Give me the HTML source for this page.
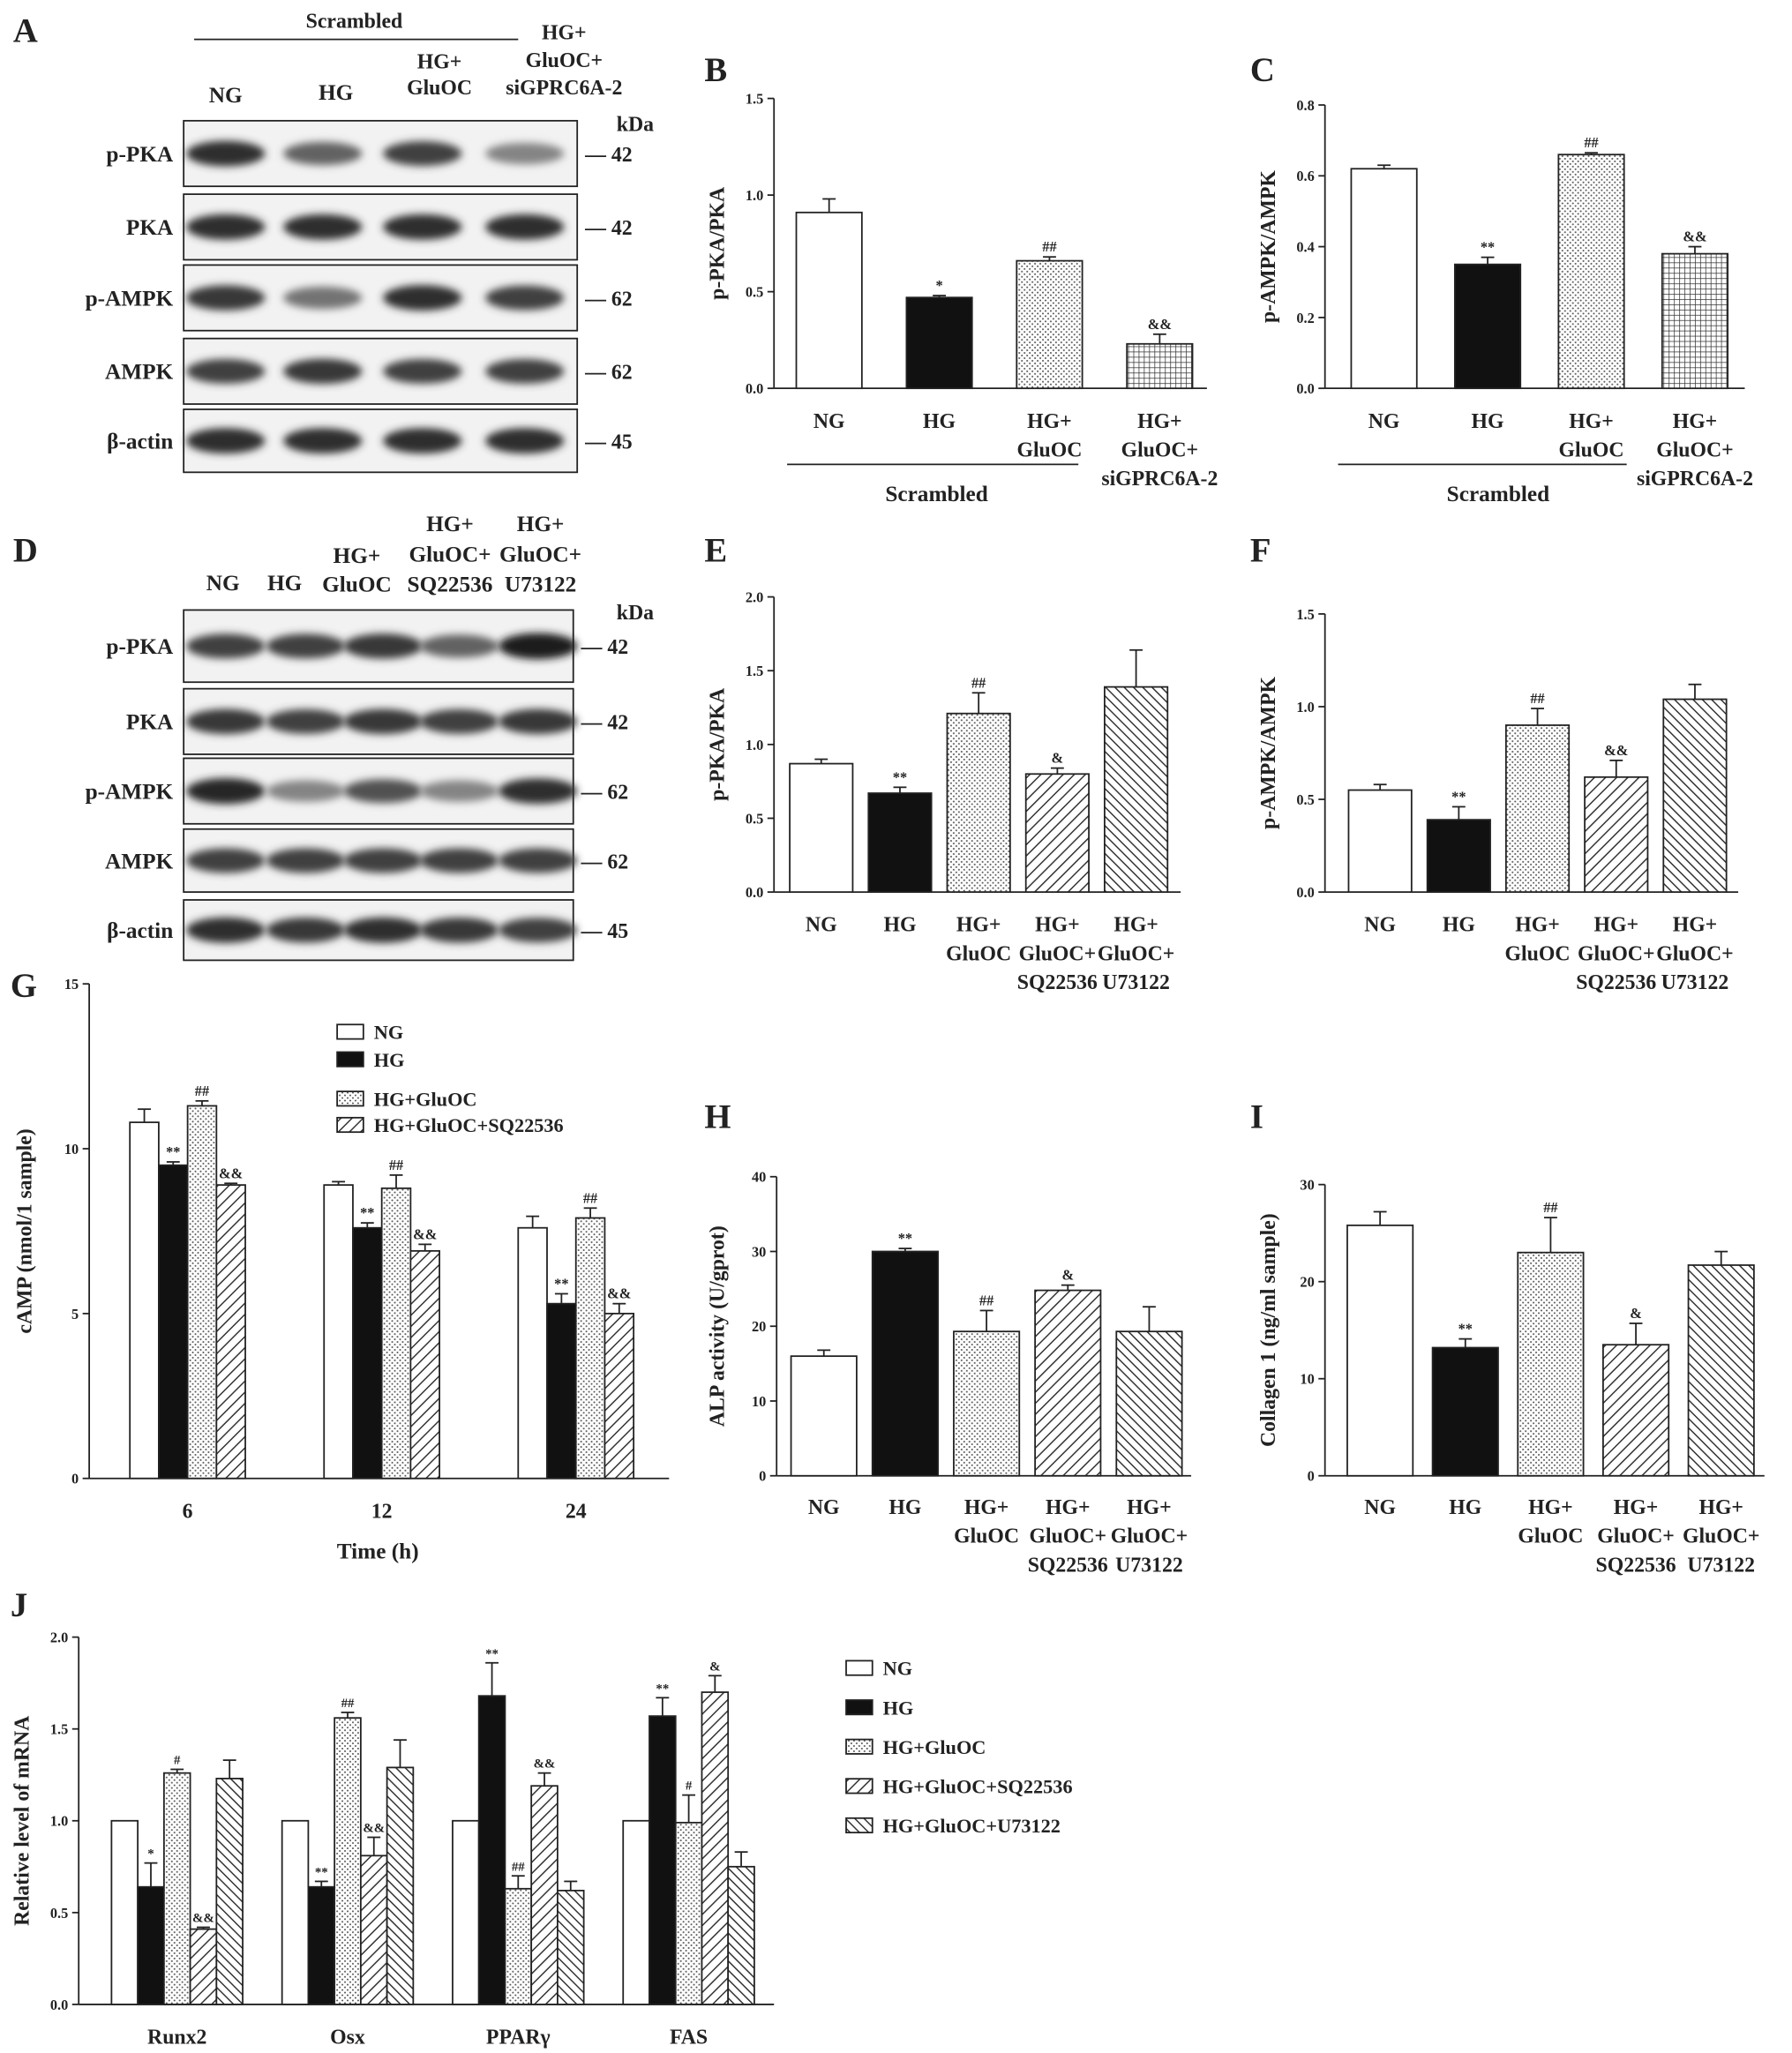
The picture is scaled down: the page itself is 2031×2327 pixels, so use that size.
<!DOCTYPE html>
<html><head><meta charset="utf-8"><style>
html,body{margin:0;padding:0;background:#fff}
svg{display:block}
text{font-family:"Liberation Serif",serif;font-weight:bold;fill:#222}
</style></head><body>
<svg id="fig" width="2031" height="2327" viewBox="0 0 1366 1565" xmlns="http://www.w3.org/2000/svg">
<defs>
<pattern id="pDots" width="4" height="4" patternUnits="userSpaceOnUse"><rect width="4" height="4" fill="#fff"/><circle cx="1" cy="1" r="0.7" fill="#555"/><circle cx="3" cy="3" r="0.7" fill="#555"/></pattern>
<pattern id="pHatch" width="6" height="6" patternUnits="userSpaceOnUse" patternTransform="rotate(45)"><rect width="6" height="6" fill="#fff"/><line x1="0" y1="0" x2="0" y2="6" stroke="#333" stroke-width="2"/></pattern>
<pattern id="pBack" width="5" height="5" patternUnits="userSpaceOnUse" patternTransform="rotate(-45)"><rect width="5" height="5" fill="#fff"/><line x1="0" y1="0" x2="0" y2="5" stroke="#333" stroke-width="2"/></pattern>
<pattern id="pGrid" width="4" height="4" patternUnits="userSpaceOnUse"><rect width="4" height="4" fill="#fff"/><path d="M0 0H4M0 0V4" stroke="#333" stroke-width="1"/></pattern>
<filter id="blur" x="-20%" y="-50%" width="140%" height="200%"><feGaussianBlur stdDeviation="3"/></filter>
</defs>
<g id="root"></g>
</svg>
<script>
// ---- data ----
const bCats=["NG","HG","HG+|GluOC","HG+|GluOC+|siGPRC6A-2"];
const bVals=[0.91,0.47,0.66,0.23];
const bErr=[0.07,0.01,0.02,0.05];
const bSig=["","*","##","&&"];
const bTicks=["0.0","0.5","1.0","1.5"];
const cVals=[0.62,0.35,0.66,0.38];
const cErr=[0.01,0.02,0.005,0.02];
const cSig=["","**","##","&&"];
const cTicks=["0.0","0.2","0.4","0.6","0.8"];
const eCats=["NG","HG","HG+|GluOC","HG+|GluOC+|SQ22536","HG+|GluOC+|U73122"];
const eVals=[0.87,0.67,1.21,0.80,1.39];
const eErr=[0.03,0.04,0.14,0.04,0.25];
const eSig=["","**","##","&",""];
const eTicks=["0.0","0.5","1.0","1.5","2.0"];
const fVals=[0.55,0.39,0.90,0.62,1.04];
const fErr=[0.03,0.07,0.09,0.09,0.08];
const fSig=["","**","##","&&",""];
const fTicks=["0.0","0.5","1.0","1.5"];
const hVals=[16,30,19.3,24.8,19.3];
const hErr=[0.8,0.4,2.8,0.7,3.3];
const hSig=["","**","##","&",""];
const hTicks=["0","10","20","30","40"];
const iVals=[25.8,13.2,23,13.5,21.7];
const iErr=[1.4,0.9,3.6,2.2,1.4];
const iSig=["","**","##","&",""];
const iTicks=["0","10","20","30"];
const gCats=["6","12","24"];
const gVals=[[10.8,9.5,11.3,8.9],[8.9,7.6,8.8,6.9],[7.6,5.3,7.9,5.0]];
const gErr=[[0.4,0.1,0.15,0.05],[0.1,0.15,0.4,0.2],[0.35,0.3,0.3,0.3]];
const gSig=[["","**","##","&&"],["","**","##","&&"],["","**","##","&&"]];
const gTicks=["0","5","10","15"];
const gLegend=["NG","HG","HG+GluOC","HG+GluOC+SQ22536"];
const jCats=["Runx2","Osx","PPARγ","FAS"];
const jVals=[[1.0,0.64,1.26,0.41,1.23],[1.0,0.64,1.56,0.81,1.29],[1.0,1.68,0.63,1.19,0.62],[1.0,1.57,0.99,1.70,0.75]];
const jErr=[[0,0.13,0.02,0.01,0.1],[0,0.03,0.03,0.1,0.15],[0,0.18,0.07,0.07,0.05],[0,0.1,0.15,0.09,0.08]];
const jSig=[["","*","#","&&",""],["","**","##","&&",""],["","**","##","&&",""],["","**","#","&",""]];
const jTicks=["0.0","0.5","1.0","1.5","2.0"];
const jLegend=["NG","HG","HG+GluOC","HG+GluOC+SQ22536","HG+GluOC+U73122"];
const fills=["#fff","#111","url(#pDots)","url(#pHatch)","url(#pBack)"];
const fillsB=["#fff","#111","url(#pDots)","url(#pGrid)"];

const NS="http://www.w3.org/2000/svg";
const root=document.getElementById('root');
function mk(tag,a,parent){const e=document.createElementNS(NS,tag);for(const k in a)e.setAttribute(k,a[k]);(parent||root).appendChild(e);return e;}
function txt(x,y,s,size,anchor,parent){const t=mk('text',{x:x,y:y,'font-size':size,'text-anchor':anchor||'middle'},parent);t.textContent=s;return t;}
function multi(x,y,s,size,lh,parent){s.split('|').forEach((l,k)=>{const t=txt(x,y+k*lh,l,size,'middle',parent);

});}

function axes(g,ax,yT,yB,xEnd,ticks,ylabel,ylx,tsz){
  const yl=mk('line',{x1:ax,y1:yT,x2:ax,y2:yB,stroke:'#222','stroke-width':1.2},g);
  
  
  const xl=mk('line',{x1:ax,y1:yB,x2:xEnd,y2:yB,stroke:'#222','stroke-width':1.2},g);
  
  
  ticks.forEach((t,k)=>{const y=yB-(yB-yT)*k/(ticks.length-1);
    mk('line',{x1:ax-5,y1:y,x2:ax,y2:y,stroke:'#222','stroke-width':1.2},g);
    const tt=txt(ax-8,y+4,t,tsz||11,'end',g);
    
    });
  const yt=txt(0,0,ylabel,16,'middle',g);
  yt.setAttribute('transform','translate('+ylx+','+((yT+yB)/2)+') rotate(-90)');
  
  
}
function bar(g,cx,bw,v,e,sig,y,yB,fill,sigSize){
  const r=mk('rect',{x:cx-bw/2,y:y(v),width:bw,height:yB-y(v),fill:fill,stroke:'#222','stroke-width':1.2},g);
  
  
  if(e>0){mk('line',{x1:cx,y1:y(v),x2:cx,y2:y(v+e),stroke:'#222','stroke-width':1.2},g);
    mk('line',{x1:cx-5,y1:y(v+e),x2:cx+5,y2:y(v+e),stroke:'#222','stroke-width':1.2},g);}
  if(sig){const s=txt(cx,y(v+e)-4,sig,sigSize||11,'middle',g);s.setAttribute('font-weight','normal');s.setAttribute('fill','#444');
    
    }
}
function simple(name,ax,yT,yB,xEnd,vmax,ticks,vals,errs,sigs,cats,first,step,bw,ylabel,ylx,fl,catY){
  const g=mk('g',{});
  
  
  axes(g,ax,yT,yB,xEnd,ticks,ylabel,ylx);
  const y=v=>yB-v/vmax*(yB-yT);
  const xb=i=>ax+first+i*step;
  vals.forEach((v,i)=>{bar(g,xb(i),bw,v,errs[i],sigs[i],y,yB,fl[i]);multi(xb(i),catY,cats[i],16,22,g);});
}
function label(x,y,s){const t=txt(x,y,s,26,'start');}

// panel labels
[[10,32,"A"],[537,62,"B"],[953,62,"C"],[10,428,"D"],[537,428,"E"],[953,428,"F"],[8,760,"G"],[537,860,"H"],[953,860,"I"],[8,1232,"J"]].forEach(p=>label(p[1-1],p[1],p[2]));

// B
simple('chart-b',590,75,296,920,1.5,bTicks,bVals,bErr,bSig,bCats,42,84,50,'p-PKA/PKA',552,fillsB,326);
mk('line',{x1:600,y1:354,x2:822,y2:354,stroke:'#222','stroke-width':1.2});
txt(714,382,'Scrambled',17);
// C
simple('chart-c',1010,80,296,1330,0.8,cTicks,cVals,cErr,cSig,bCats,45,79,50,'p-AMPK/AMPK',972,fillsB,326);
mk('line',{x1:1020,y1:354,x2:1240,y2:354,stroke:'#222','stroke-width':1.2});
txt(1142,382,'Scrambled',17);
// E
simple('chart-e',590,455,680,900,2.0,eTicks,eVals,eErr,eSig,eCats,36,60,48,'p-PKA/PKA',552,fills,710);
// F
simple('chart-f',1010,468,680,1325,1.5,fTicks,fVals,fErr,fSig,eCats,42,60,48,'p-AMPK/AMPK',972,fills,710);
// H
simple('chart-h',592,897,1125,908,40,hTicks,hVals,hErr,hSig,eCats,36,62,50,'ALP activity (U/gprot)',552,fills,1154);
// I
simple('chart-i',1010,903,1125,1345,30,iTicks,iVals,iErr,iSig,eCats,42,65,50,'Collagen 1 (ng/ml sample)',972,fills,1154);

// grouped
function grouped(name,ax,yT,yB,xEnd,vmax,ticks,vals,errs,sigs,cats,first,gstep,bw,ylabel,ylx,fl,catY,sigSize){
  const g=mk('g',{});
  
  
  axes(g,ax,yT,yB,xEnd,ticks,ylabel,ylx);
  const y=v=>yB-v/vmax*(yB-yT);
  vals.forEach((grp,i)=>{const n=grp.length;const c0=ax+first+i*gstep;
    grp.forEach((v,k)=>bar(g,c0+(k-(n-1)/2)*bw,bw,v,errs[i][k],sigs[i][k],y,yB,fl[k],sigSize));
    const t=txt(c0,catY,cats[i],16,'middle',g);
    
    });
}
grouped('chart-g',68,750,1127,510,15,gTicks,gVals,gErr,gSig,gCats,75,148,22,'cAMP (nmol/1 sample)',24,fills,1157);
txt(288,1188,'Time (h)',17);
grouped('chart-j',60,1248,1528,590,2.0,jTicks,jVals,jErr,jSig,jCats,75,130,20,'Relative level of mRNA',22,fills,1558,10);

function legend(name,x,ys,labels,fl){
  labels.forEach((l,k)=>{const r=mk('rect',{x:x,y:ys[k]-7,width:20,height:11,fill:fl[k],stroke:'#222','stroke-width':1.2});
    
    
    const t=txt(x+28,ys[k]+4,l,15,'start');
    
    });
}
legend('legend-g',257,[788,809,839,859],gLegend,fills);
legend('legend-j',645,[1273,1303,1333,1363,1393],jLegend,fills);

// Western blots
function blot(x,y,w,h,lanes,ints,labelS,kda){
  const r=mk('rect',{x:x,y:y,width:w,height:h,fill:'#f2f2f2',stroke:'#222','stroke-width':1.2});
  
  
  lanes.forEach((cx,i)=>{const b=mk('ellipse',{cx:cx,cy:y+h/2,rx:30,ry:7+ints[i]*3,fill:'rgb('+Math.round(200-170*ints[i])+','+Math.round(200-170*ints[i])+','+Math.round(200-170*ints[i])+')',filter:'url(#blur)'});
    
    });
  const t=txt(x-8,y+h/2+6,labelS,17,'end');
  
  
  txt(x+w+6,y+h/2+6,'— '+kda,16,'start');
}
const laneA=[172,246,322,400];
blot(140,92,300,50,laneA,[0.9,0.6,0.8,0.4],'p-PKA',42);
blot(140,148,300,50,laneA,[0.9,0.9,0.9,0.9],'PKA',42);
blot(140,202,300,50,laneA,[0.85,0.5,0.9,0.8],'p-AMPK',62);
blot(140,258,300,50,laneA,[0.8,0.85,0.8,0.8],'AMPK',62);
blot(140,312,300,48,laneA,[0.9,0.9,0.9,0.9],'β-actin',45);
txt(270,21,'Scrambled',16);
mk('line',{x1:148,y1:30,x2:395,y2:30,stroke:'#222','stroke-width':1.2});
txt(172,78,'NG',17);txt(256,76,'HG',17);
txt(335,52,'HG+',16);txt(335,72,'GluOC',16);
txt(430,30,'HG+',16);txt(430,51,'GluOC+',16);txt(430,72,'siGPRC6A-2',16);
txt(470,100,'kDa',16,'start');

const laneD=[172,233,292,350,410];
blot(140,465,297,55,laneD,[0.8,0.8,0.85,0.6,1.0],'p-PKA',42);
blot(140,525,297,50,laneD,[0.85,0.8,0.85,0.8,0.85],'PKA',42);
blot(140,578,297,50,laneD,[0.95,0.4,0.7,0.4,0.9],'p-AMPK',62);
blot(140,632,297,48,laneD,[0.8,0.8,0.8,0.8,0.8],'AMPK',62);
blot(140,686,297,46,laneD,[0.9,0.85,0.9,0.85,0.8],'β-actin',45);
txt(170,450,'NG',17);txt(217,450,'HG',17);
txt(272,429,'HG+',17);txt(272,451,'GluOC',17);
txt(343,405,'HG+',17);txt(343,428,'GluOC+',17);txt(343,451,'SQ22536',17);
txt(412,405,'HG+',17);txt(412,428,'GluOC+',17);txt(412,451,'U73122',17);
txt(470,472,'kDa',16,'start');
</script>
</body></html>
